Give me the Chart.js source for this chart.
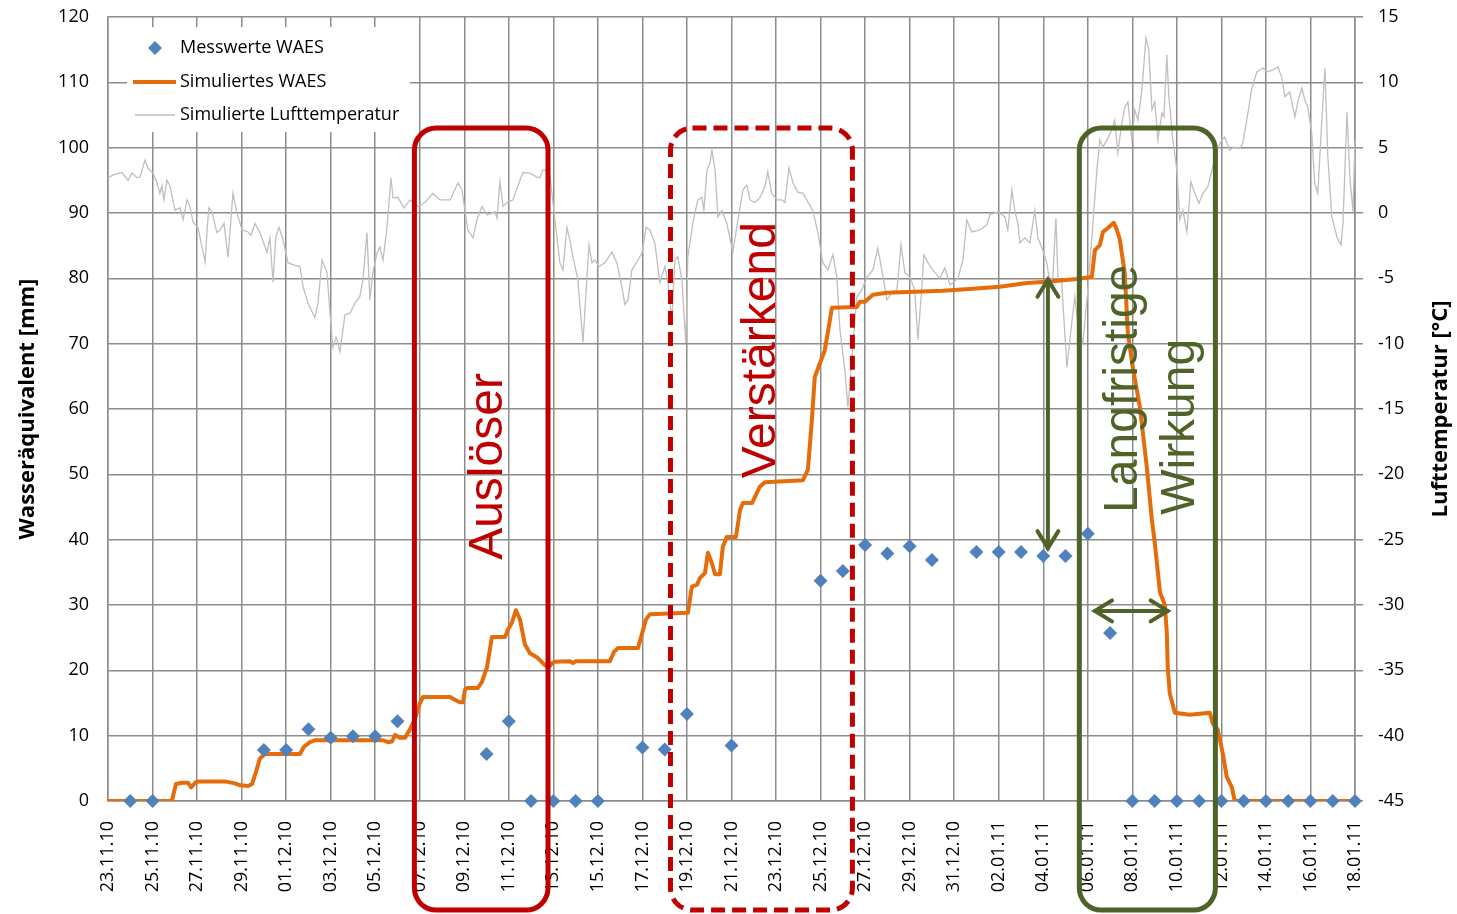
<!DOCTYPE html>
<html lang="de">
<head>
  <meta charset="UTF-8">
  <title>Wasseräquivalent und Lufttemperatur</title>
  <style>
    html, body { margin: 0; padding: 0; background: #fff; }
    canvas { display: block; }
  </style>
  <script src="https://cdn.jsdelivr.net/npm/chart.js"></script>
</head>
<body>
  <canvas id="chart" width="1457" height="914"></canvas>
  <script>
    // x values are days since 23.11.10
    const dateLabels = ['23.11.10', '25.11.10', '27.11.10', '29.11.10', '01.12.10', '03.12.10', '05.12.10',
      '07.12.10', '09.12.10', '11.12.10', '13.12.10', '15.12.10', '17.12.10', '19.12.10', '21.12.10',
      '23.12.10', '25.12.10', '27.12.10', '29.12.10', '31.12.10', '02.01.11', '04.01.11', '06.01.11',
      '08.01.11', '10.01.11', '12.01.11', '14.01.11', '16.01.11', '18.01.11'];

    // Messwerte WAES (mm)
    const measDays = [1, 2, 7, 8, 9, 10, 11, 12, 13, 17, 18, 19, 20, 21, 22, 24, 25, 26, 28,
      32, 33, 34, 35, 36, 37, 39, 40, 41, 42, 43, 44, 45, 46, 47, 48, 49, 50, 51, 52, 53, 54, 55, 56];
    const measWaes = [0, 0, 7.8, 7.8, 11.0, 9.7, 9.9, 9.9, 12.2, 7.2, 12.2, 0, 0, 0, 0, 8.2, 7.9, 13.3, 8.5,
      33.7, 35.2, 39.2, 37.9, 39.0, 36.9, 38.1, 38.1, 38.1, 37.5, 37.5, 40.9, 25.7, 0, 0, 0, 0, 0, 0, 0, 0, 0, 0, 0];

    // Simuliertes WAES (mm)
    const simDays = [0, 2.87, 3.05, 3.32, 3.59, 3.73, 3.95, 4.13, 5.25, 5.70,
      5.93, 6.29, 6.47, 6.65, 6.82, 7.05, 8.62, 8.80, 9.07, 9.29,
      12.35, 12.57, 12.75, 12.89, 13.11, 13.34, 13.56, 13.78, 14.01, 14.14,
      15.36, 15.58, 15.80, 15.94, 16.03, 16.12, 16.61, 16.79, 17.02, 17.24,
      17.83, 17.96, 18.14, 18.32, 18.50, 18.72, 18.95, 19.26, 19.62, 19.80,
      19.94, 20.07, 20.74, 20.88, 21.01, 22.54, 22.72, 22.90, 23.80, 23.98,
      24.16, 24.34, 26.04, 26.22, 26.45, 26.58, 26.81, 26.94, 27.12, 27.26,
      27.48, 27.61, 27.79, 28.20, 28.38, 28.51, 28.92, 29.05, 29.27, 29.50,
      31.21, 31.43, 31.61, 31.74, 31.97, 32.19, 32.33, 32.51, 33.63, 33.76,
      33.99, 34.35, 34.98, 37.49, 38.84, 40.05, 41.26, 42.30, 43.51, 44.18,
      44.32, 44.54, 44.68, 44.90, 45.17, 45.30, 45.44, 45.66, 45.80, 46.02,
      46.34, 46.65, 46.88, 47.01, 47.24, 47.46, 47.55, 47.59, 47.68, 47.91,
      48.58, 49.48, 49.61, 49.84, 50.06, 50.24, 50.47, 50.60, 56.00];
    const simWaes = [0, 0, 2.6, 2.8, 2.8, 2.1, 2.9, 3.0, 3.0, 2.7,
      2.4, 2.3, 2.6, 4.5, 6.5, 7.2, 7.2, 8.3, 9.0, 9.3,
      9.3, 9.0, 9.1, 10.1, 9.7, 9.7, 11.0, 12.5, 15.0, 15.9,
      15.9, 15.5, 15.1, 15.1, 17.0, 17.3, 17.3, 18.2, 20.5, 25.1,
      25.1, 26.2, 27.3, 29.2, 27.8, 24.0, 22.6, 22.0, 20.8, 20.5,
      21.1, 21.3, 21.4, 21.1, 21.4, 21.4, 22.8, 23.4, 23.4, 25.6,
      27.8, 28.6, 28.8, 32.8, 33.1, 34.1, 34.9, 38.0, 36.4, 34.7,
      34.7, 38.9, 40.4, 40.4, 44.5, 45.6, 45.6, 46.5, 48.1, 48.8,
      49.1, 50.7, 58.3, 64.9, 67.0, 69.0, 71.8, 75.5, 75.6, 76.4,
      76.4, 77.5, 77.8, 78.1, 78.4, 78.7, 79.3, 79.5, 79.9, 80.2,
      84.3, 85.1, 87.1, 87.7, 88.5, 87.5, 85.9, 80.8, 71.6, 66.4,
      60.3, 51.1, 43.0, 39.5, 32.0, 30.0, 25.7, 20.5, 16.5, 13.5,
      13.2, 13.5, 11.9, 10.9, 7.3, 3.7, 2.1, 0, 0];

    // Simulierte Lufttemperatur (°C)
    const tempDays = [0.00, 0.22, 0.63, 0.90, 1.08, 1.30, 1.44, 1.66, 1.80, 2.02,
      2.20, 2.33, 2.42, 2.51, 2.65, 2.78, 3.01, 3.23, 3.37, 3.55,
      3.68, 3.82, 4.04, 4.22, 4.36, 4.45, 4.53, 4.67, 4.89, 5.03,
      5.21, 5.39, 5.61, 5.79, 6.02, 6.29, 6.42, 6.60, 6.82, 7.14,
      7.27, 7.41, 7.54, 7.68, 7.86, 8.08, 8.40, 8.62, 8.76, 8.98,
      9.29, 9.43, 9.61, 9.83, 9.97, 10.10, 10.24, 10.42, 10.64, 10.87,
      11.09, 11.31, 11.45, 11.63, 11.76, 11.90, 12.08, 12.21, 12.35, 12.53,
      12.71, 12.80, 13.02, 13.29, 13.56, 13.92, 14.23, 14.59, 14.91, 15.36,
      15.72, 15.90, 16.03, 16.16, 16.39, 16.57, 16.79, 17.02, 17.38, 17.47,
      17.60, 17.74, 17.96, 18.18, 18.63, 18.95, 19.26, 19.40, 19.53, 19.62,
      19.85, 20.07, 20.29, 20.43, 20.61, 20.74, 20.88, 21.10, 21.33, 21.51,
      21.60, 21.73, 21.87, 22.05, 22.32, 22.63, 22.85, 23.08, 23.21, 23.35,
      23.53, 23.75, 23.98, 24.16, 24.34, 24.56, 24.78, 25.01, 25.14, 25.32,
      25.46, 25.59, 25.77, 25.95, 26.04, 26.27, 26.49, 26.67, 26.76, 26.90,
      27.03, 27.12, 27.26, 27.39, 27.57, 27.79, 28.06, 28.29, 28.51, 28.69,
      28.83, 29.05, 29.27, 29.50, 29.63, 29.81, 30.04, 30.26, 30.40, 30.58,
      30.76, 30.98, 31.21, 31.43, 31.65, 31.88, 32.10, 32.33, 32.55, 32.73,
      32.87, 33.09, 33.23, 33.41, 33.63, 33.85, 34.08, 34.35, 34.57, 34.75,
      34.98, 35.20, 35.43, 35.61, 35.79, 36.01, 36.23, 36.37, 36.55, 36.64,
      36.82, 37.04, 37.36, 37.58, 37.81, 38.17, 38.39, 38.57, 38.79, 39.15,
      39.47, 39.60, 39.96, 40.28, 40.41, 40.59, 40.73, 40.86, 40.95, 41.17,
      41.40, 41.62, 41.76, 41.98, 42.16, 42.30, 42.43, 42.57, 42.66, 42.83,
      43.06, 43.28, 43.42, 43.55, 43.78, 44.00, 44.23, 44.41, 44.54, 44.68,
      44.86, 45.08, 45.21, 45.35, 45.53, 45.66, 45.80, 45.98, 46.11, 46.25,
      46.43, 46.61, 46.74, 46.88, 47.01, 47.15, 47.33, 47.42, 47.55, 47.64,
      47.82, 48.00, 48.13, 48.27, 48.45, 48.63, 48.81, 48.99, 49.17, 49.39,
      49.61, 49.79, 50.02, 50.15, 50.38, 50.56, 50.83, 50.96, 51.14, 51.37,
      51.59, 51.86, 52.08, 52.31, 52.53, 52.71, 52.85, 53.07, 53.30, 53.43,
      53.61, 53.75, 53.88, 54.06, 54.19, 54.33, 54.51, 54.65, 54.78, 54.96,
      55.19, 55.37, 55.46, 55.64, 55.78, 55.91, 56.00];
    const tempValues = [2.7, 2.9, 3.1, 2.5, 3.05, 2.7, 2.75, 4.05, 3.4, 3.05,
      2.3, 1.5, 2.1, 1.0, 2.5, 2.1, 0.2, 0.4, -0.5, 1.0,
      0.5, -0.7, -1.1, -2.6, -3.75, -1.3, 0.4, 0.1, -1.5, -1.3,
      -0.8, -3.4, 1.5, 0.0, -1.3, -1.45, -1.7, -0.8, -1.5, -3.0,
      -1.9, -5.3, -1.8, -1.1, -2.05, -3.8, -4.0, -4.1, -5.65, -6.9,
      -8.0, -6.9, -3.6, -4.5, -7.65, -10.3, -9.5, -10.6, -7.8, -7.65,
      -6.9, -6.4, -5.1, -1.5, -6.65, -4.5, -3.05, -2.6, -3.6, -1.1,
      2.7, 1.15, 1.2, 0.4, 1.0, 0.5, 0.8, 1.5, 1.0, 1.0,
      2.3, 1.75, 0.2, -1.3, -1.9, -0.5, 0.5, -0.15, 0.1, -0.4,
      2.4, 0.5, 0.85, 1.0, 3.1, 3.05, 2.75, 2.7, 3.3, 3.3,
      2.75, -0.5, -3.8, -4.35, -1.1, -2.05, -3.35, -5.1, -9.9, -4.9,
      -2.45, -3.8, -3.6, -4.1, -3.8, -3.0, -3.8, -5.65, -7.0, -6.65,
      -4.35, -3.75, -3.05, -1.1, -1.3, -2.3, -5.3, -4.1, -5.3, -8.2,
      -3.6, -3.35, -5.1, -9.95, -3.35, -0.7, 1.0, 1.2, 0.2, 3.3,
      3.8, 4.8, 3.3, -0.3, 0.2, -0.8, -3.0, -0.5, 1.75, 2.15,
      1.0, 0.8, 1.15, 2.0, 3.15, 1.5, 1.0, 1.0, 0.8, 3.45,
      2.3, 1.6, 1.5, 0.85, 0.2, -1.5, -3.8, -4.35, -3.2, -4.9,
      -8.95, -12.0, -14.85, -11.0, -6.4, -5.9, -4.9, -4.35, -2.7, -4.35,
      -6.65, -6.1, -5.9, -2.45, -4.6, -4.9, -5.9, -9.7, -5.65, -3.2,
      -3.8, -4.35, -5.0, -4.2, -5.5, -5.0, -3.6, -0.55, -1.45, -1.3,
      -0.9, -0.15, 0.1, -0.3, -1.3, 1.75, 0.1, -0.8, -2.3, -1.9,
      -2.3, 0.2, -1.9, -2.85, -3.8, -5.35, -4.9, -0.4, -5.0, -5.35,
      -11.8, -8.4, -6.4, -8.4, -9.95, -5.9, -0.8, 3.3, 5.6, 5.05,
      5.6, 6.35, 7.1, 4.6, 6.9, 8.1, 8.5, 5.6, 7.9, 7.1,
      9.4, 13.4, 12.5, 7.9, 8.5, 5.6, 7.65, 7.35, 12.1, 8.9,
      5.6, 3.3, -0.5, 0.2, -1.45, 2.4, 1.5, 0.75, 1.5, 2.0,
      3.5, 4.8, 5.6, 5.8, 4.8, 5.05, 4.95, 5.35, 7.1, 9.55,
      10.8, 11.1, 10.8, 10.95, 11.2, 10.4, 8.9, 9.25, 7.35, 8.5,
      9.55, 8.65, 8.1, 6.1, 2.3, 1.5, 7.1, 11.1, 4.3, -0.3,
      -1.85, -2.45, -0.8, 7.7, 2.5, 0.1, 5.6];

    // Annotations (data coordinates: day, mm)
    const frames = [
      { from: 13.76, to: 19.76, top: 103, bottom: -16.7, color: '#C00000', dash: [] },
      { from: 25.26, to: 33.43, top: 103, bottom: -16.7, color: '#C00000', dash: [14, 7] },
      { from: 43.62, to: 49.73, top: 103, bottom: -16.7, color: '#4F6228', dash: [] }
    ];
    const arrows = [
      { x0: 42.21, y0: 79.8, x1: 42.21, y1: 38.7 },
      { x0: 44.32, y0: 29.1, x1: 47.59, y1: 29.1 }
    ];
    const notes = [
      { text: 'Auslöser', x: 17.69, y: 51.2, align: 'center', color: '#C00000' },
      { text: 'Verstärkend', x: 29.95, y: 69.0, align: 'center', color: '#C00000' },
      { text: 'Langfristige', x: 46.20, y: 44.1, align: 'left', color: '#4F6228' },
      { text: 'Wirkung', x: 48.76, y: 43.8, align: 'left', color: '#4F6228' }
    ];

    const GRID = '#8c8c8c';
    const FONT = "'Open Sans', sans-serif";
    Chart.defaults.font.family = FONT;
    Chart.defaults.font.size = 18;
    Chart.defaults.color = '#000';

    function pts(xs, ys) { return xs.map((x, i) => ({ x: x, y: ys[i] })); }

    function roundBox(ctx, x0, y0, x1, y1, r) {
      ctx.beginPath();
      ctx.moveTo(x0 + r, y0);
      ctx.arcTo(x1, y0, x1, y1, r);
      ctx.arcTo(x1, y1, x0, y1, r);
      ctx.arcTo(x0, y1, x0, y0, r);
      ctx.arcTo(x0, y0, x1, y0, r);
      ctx.closePath();
      ctx.stroke();
    }

    function arrowHead(ctx, tx, ty, ang) {
      const len = 20, spread = 0.55;
      ctx.beginPath();
      ctx.moveTo(tx + len * Math.cos(ang + spread), ty + len * Math.sin(ang + spread));
      ctx.lineTo(tx, ty);
      ctx.lineTo(tx + len * Math.cos(ang - spread), ty + len * Math.sin(ang - spread));
      ctx.stroke();
    }

    // vertical axes: fixed width, no extra top/bottom padding from tick labels
    function fixWidth(w) {
      return s => { s.width = w; s.paddingTop = 0; s.paddingBottom = 0; };
    }

    const overlay = {
      id: 'overlay',
      afterDatasetsDraw(chart) {
        // legend inside the plot, top left
        const { ctx, chartArea: a } = chart;
        const ds = chart.data.datasets;
        ctx.save();
        ctx.fillStyle = '#fff';
        ctx.fillRect(a.left + 19, a.top + 10, 283, 105);
        const rows = [a.top + 31, a.top + 65, a.top + 98];
        const mx = a.left + 47;
        // diamond
        ctx.fillStyle = ds[0].backgroundColor;
        ctx.beginPath();
        ctx.moveTo(mx, rows[0] - 7); ctx.lineTo(mx + 7, rows[0]);
        ctx.lineTo(mx, rows[0] + 7); ctx.lineTo(mx - 7, rows[0]);
        ctx.closePath(); ctx.fill();
        // lines
        ctx.strokeStyle = ds[1].borderColor; ctx.lineWidth = 4;
        ctx.beginPath(); ctx.moveTo(mx - 22, rows[1]); ctx.lineTo(mx + 21, rows[1]); ctx.stroke();
        ctx.strokeStyle = ds[2].borderColor; ctx.lineWidth = 1.5;
        ctx.beginPath(); ctx.moveTo(mx - 20, rows[2]); ctx.lineTo(mx + 20, rows[2]); ctx.stroke();
        ctx.fillStyle = '#000';
        ctx.font = '18px ' + FONT;
        ctx.textBaseline = 'middle';
        ctx.textAlign = 'left';
        ds.forEach((d, i) => ctx.fillText(d.label, a.left + 72, rows[i]));
        ctx.restore();
      },
      afterDraw(chart) {
        const { ctx, chartArea: a, scales } = chart;
        const sx = scales.x, sy = scales.y;
        ctx.save();
        ctx.lineWidth = 5;
        frames.forEach(f => {
          ctx.strokeStyle = f.color;
          ctx.setLineDash(f.dash);
          roundBox(ctx, sx.getPixelForValue(f.from), sy.getPixelForValue(f.top),
            sx.getPixelForValue(f.to), sy.getPixelForValue(f.bottom), 22);
        });
        ctx.setLineDash([]);
        ctx.strokeStyle = '#4F6228';
        ctx.lineWidth = 4;
        ctx.lineCap = 'round';
        arrows.forEach(ar => {
          const x0 = sx.getPixelForValue(ar.x0), y0 = sy.getPixelForValue(ar.y0);
          const x1 = sx.getPixelForValue(ar.x1), y1 = sy.getPixelForValue(ar.y1);
          ctx.beginPath(); ctx.moveTo(x0, y0); ctx.lineTo(x1, y1); ctx.stroke();
          const ang = Math.atan2(y1 - y0, x1 - x0);
          arrowHead(ctx, x0, y0, ang);
          arrowHead(ctx, x1, y1, ang + Math.PI);
        });
        ctx.font = "48px 'Liberation Sans', Arial, sans-serif";
        ctx.textBaseline = 'alphabetic';
        notes.forEach(n => {
          ctx.save();
          ctx.translate(sx.getPixelForValue(n.x), sy.getPixelForValue(n.y));
          ctx.rotate(-Math.PI / 2);
          ctx.fillStyle = n.color;
          ctx.textAlign = n.align;
          ctx.fillText(n.text, 0, 0);
          ctx.restore();
        });
        // right axis title, reading bottom to top
        ctx.save();
        ctx.translate(a.right + 86, (a.top + a.bottom) / 2);
        ctx.rotate(-Math.PI / 2);
        ctx.font = 'bold 22px ' + FONT;
        ctx.fillStyle = '#000';
        ctx.textAlign = 'center';
        ctx.textBaseline = 'middle';
        ctx.fillText('Lufttemperatur [°C]', 0, 0);
        ctx.restore();
        ctx.restore();
      }
    };

    new Chart(document.getElementById('chart'), {
      type: 'line',
      data: {
        datasets: [
          {
            label: 'Messwerte WAES',
            data: pts(measDays, measWaes),
            yAxisID: 'y',
            showLine: false,
            pointStyle: 'rectRot',
            pointRadius: 7,
            pointBackgroundColor: '#4F81BD',
            pointBorderWidth: 0,
            backgroundColor: '#4F81BD',
            borderColor: '#4F81BD',
            clip: false
          },
          {
            label: 'Simuliertes WAES',
            data: pts(simDays, simWaes),
            yAxisID: 'y',
            borderColor: '#E46C0A',
            borderWidth: 4,
            pointRadius: 0,
            tension: 0,
            borderCapStyle: 'round',
            borderJoinStyle: 'round'
          },
          {
            label: 'Simulierte Lufttemperatur',
            data: pts(tempDays, tempValues),
            yAxisID: 'y2',
            borderColor: '#BFBFBF',
            borderWidth: 1.3,
            pointRadius: 0,
            tension: 0
          }
        ]
      },
      options: {
        responsive: false,
        animation: false,
        devicePixelRatio: 1,
        layout: { padding: { top: 17, left: 0, right: 0, bottom: 0 } },
        plugins: { legend: { display: false }, tooltip: { enabled: false } },
        scales: {
          x: {
            type: 'linear',
            min: 0,
            max: 56,
            grid: { color: GRID, lineWidth: 1.5, drawTicks: false },
            border: { color: GRID, width: 1.5 },
            ticks: {
              stepSize: 2,
              autoSkip: false,
              minRotation: 90,
              maxRotation: 90,
              padding: 20,
              callback: (v, i) => dateLabels[i]
            },
            afterFit: s => { s.height = 113; }
          },
          y: {
            position: 'left',
            min: 0,
            max: 120,
            grid: { color: GRID, lineWidth: 1.5, drawTicks: false },
            border: { color: GRID, width: 1.5 },
            ticks: { stepSize: 10, padding: 19 },
            title: {
              display: true,
              text: 'Wasseräquivalent [mm]',
              font: { size: 22, weight: 'bold' },
              padding: { top: 15, bottom: 0 }
            },
            afterFit: fixWidth(108)
          },
          y2: {
            position: 'right',
            min: -45,
            max: 15,
            grid: { drawOnChartArea: false, color: GRID, lineWidth: 1.5, tickLength: 8 },
            border: { color: GRID, width: 1.5 },
            ticks: { stepSize: 5, padding: 15 },
            afterFit: fixWidth(102)
          }
        }
      },
      plugins: [overlay]
    });
  </script>
</body>
</html>
